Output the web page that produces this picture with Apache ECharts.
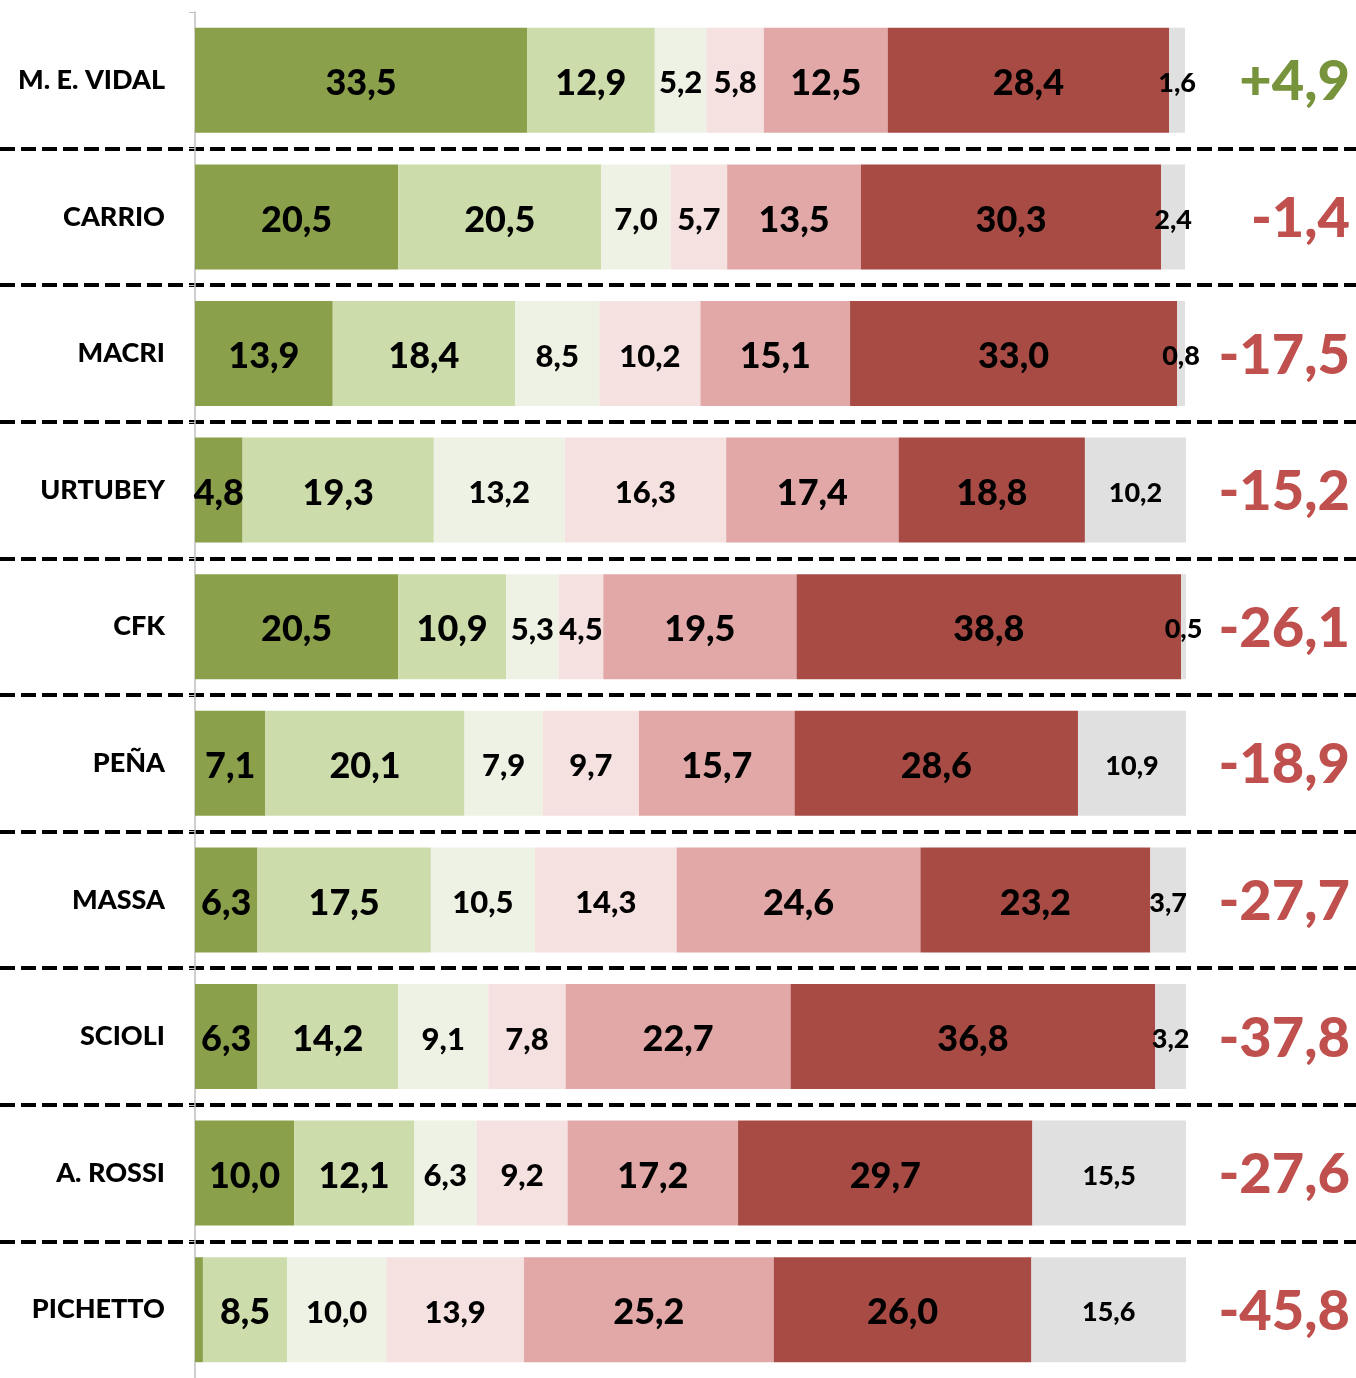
<!DOCTYPE html>
<html>
<head>
<meta charset="utf-8">
<script src="https://cdn.jsdelivr.net/npm/echarts@6/dist/echarts.min.js"></script>
<style>
  html, body { margin: 0; padding: 0; background: #fff; }
  #main { width: 1356px; height: 1378px; }
</style>
</head>
<body>
<div id="main"></div>
<script>
// candidatos, de arriba hacia abajo
var categories = ['M. E. VIDAL', 'CARRIO', 'MACRI', 'URTUBEY', 'CFK', 'PEÑA', 'MASSA', 'SCIOLI', 'A. ROSSI', 'PICHETTO'];

// segmentos de imagen (%)
var muyPositiva  = [33.5, 20.5, 13.9, 4.8, 20.5, 7.1, 6.3, 6.3, 10.0, 0.8];
var positiva     = [12.9, 20.5, 18.4, 19.3, 10.9, 20.1, 17.5, 14.2, 12.1, 8.5];
var algoPositiva = [5.2, 7.0, 8.5, 13.2, 5.3, 7.9, 10.5, 9.1, 6.3, 10.0];
var algoNegativa = [5.8, 5.7, 10.2, 16.3, 4.5, 9.7, 14.3, 7.8, 9.2, 13.9];
var negativa     = [12.5, 13.5, 15.1, 17.4, 19.5, 15.7, 24.6, 22.7, 17.2, 25.2];
var muyNegativa  = [28.4, 30.3, 33.0, 18.8, 38.8, 28.6, 23.2, 36.8, 29.7, 26.0];
var nsnc         = [1.6, 2.4, 0.8, 10.2, 0.5, 10.9, 3.7, 3.2, 15.5, 15.6];

// diferencial (columna derecha)
var diferencial = [4.9, -1.4, -17.5, -15.2, -26.1, -18.9, -27.7, -37.8, -27.6, -45.8];

var FONT = 'Lato';
var WEIGHT = 900;

function coma(v) {
  return v.toFixed(1).replace('.', ',');
}

function serie(name, data, color, fontSize) {
  return {
    name: name,
    type: 'bar',
    stack: 'total',
    xAxisIndex: 0,
    yAxisIndex: 0,
    barWidth: 105,
    itemStyle: { color: color },
    label: {
      show: true,
      position: 'inside',
      offset: [0, 3],
      color: '#000',
      fontFamily: FONT,
      fontWeight: WEIGHT,
      fontSize: fontSize,
      formatter: function (p) { return coma(p.value); }
    },
    data: data.map(function (v) {
      // el segmento minimo de PICHETTO no lleva etiqueta
      return v < 1 && name === 'Muy positiva' ? { value: v, label: { show: false } } : v;
    })
  };
}

var myChart = echarts.init(document.getElementById('main'));

myChart.setOption({
  animation: false,
  grid: [
    { left: 195, right: 170, top: 12, height: 1371 },
    { left: 0, right: 0, top: 12, height: 1371 }
  ],
  xAxis: [
    { gridIndex: 0, type: 'value', min: 0, max: 100, show: false },
    { gridIndex: 1, type: 'value', min: 0, max: 100, show: false }
  ],
  yAxis: [
    {
      gridIndex: 0,
      type: 'category',
      inverse: true,
      data: categories,
      axisLine: { show: true, lineStyle: { color: '#bfbfbf', width: 1.5 } },
      axisTick: { show: true, length: 6, lineStyle: { color: '#bfbfbf' } },
      axisLabel: {
        margin: 30,
        color: '#000',
        fontFamily: FONT,
        fontWeight: WEIGHT,
        fontSize: 27,
        padding: [6, 0, 0, 0]
      },
      splitLine: { show: false }
    },
    {
      gridIndex: 0,
      type: 'category',
      inverse: true,
      position: 'right',
      data: categories,
      axisLine: { show: false },
      axisTick: { show: false },
      axisLabel: {
        margin: 164,
        align: 'right',
        padding: [4, 0, 0, 0],
        formatter: function (v, i) {
          var d = diferencial[i];
          return d >= 0 ? '{pos|+' + coma(d) + '}' : '{neg|' + coma(d) + '}';
        },
        rich: {
          pos: { color: '#77933c', fontFamily: FONT, fontWeight: WEIGHT, fontSize: 56 },
          neg: { color: '#c0504d', fontFamily: FONT, fontWeight: WEIGHT, fontSize: 56 }
        }
      }
    },
    {
      // separadores punteados a todo el ancho
      gridIndex: 1,
      type: 'category',
      inverse: true,
      data: categories,
      axisLine: { show: false },
      axisTick: { show: false },
      axisLabel: { show: false },
      splitLine: {
        show: true,
        showMinLine: false,
        showMaxLine: false,
        lineStyle: { color: '#000', width: 4, type: [15, 6] }
      },
      z: 0
    }
  ],
  series: [
    serie('Muy positiva', muyPositiva, '#8aa04b', 36),
    serie('Positiva', positiva, '#cddcab', 36),
    serie('Algo positiva', algoPositiva, '#eef2e4', 31),
    serie('Algo negativa', algoNegativa, '#f5e1e0', 31),
    serie('Negativa', negativa, '#e2a8a7', 36),
    serie('Muy negativa', muyNegativa, '#a84b45', 36),
    serie('NS/NC', nsnc, '#e0e0e0', 27)
  ]
});
</script>
</body>
</html>
